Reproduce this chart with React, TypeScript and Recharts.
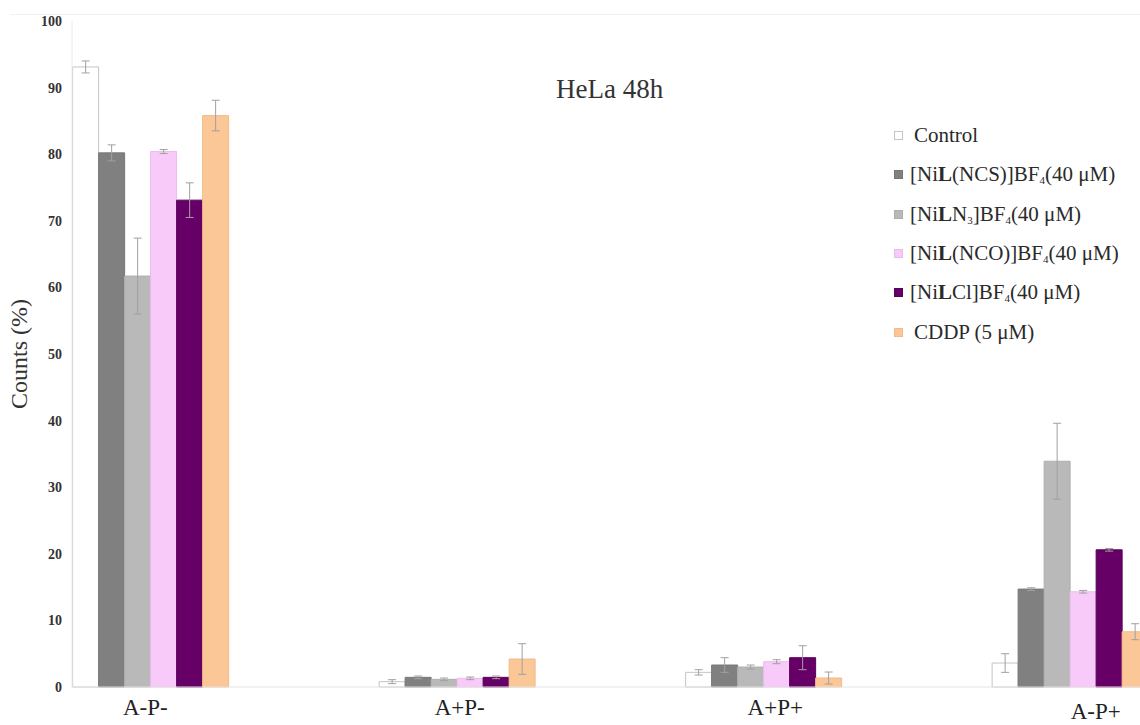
import React from "react";
import { BarChart, Bar, XAxis, YAxis, ErrorBar } from "recharts";

const categories = ["A-P-", "A+P-", "A+P+", "A-P+"];
const seriesNames = [
  "Control",
  "[NiL(NCS)]BF4(40 μM)",
  "[NiLN3]BF4(40 μM)",
  "[NiL(NCO)]BF4(40 μM)",
  "[NiLCl]BF4(40 μM)",
  "CDDP (5 μM)",
];
const control = [93.1, 0.8, 2.2, 3.6];
const controlErr = [0.9, 0.3, 0.4, 1.4];
const ncs = [80.2, 1.45, 3.3, 14.7];
const ncsErr = [1.2, 0.2, 1.1, 0.2];
const n3 = [61.7, 1.15, 3.0, 33.9];
const n3Err = [5.7, 0.2, 0.3, 5.7];
const nco = [80.4, 1.3, 3.8, 14.3];
const ncoErr = [0.3, 0.2, 0.3, 0.2];
const cl = [73.1, 1.45, 4.4, 20.6];
const clErr = [2.6, 0.2, 1.8, 0.2];
const cddp = [85.8, 4.2, 1.35, 8.3];
const cddpErr = [2.3, 2.3, 0.9, 1.2];
const yTicks = [0, 10, 20, 30, 40, 50, 60, 70, 80, 90, 100];

const values = [control, ncs, n3, nco, cl, cddp];
const errors = [controlErr, ncsErr, n3Err, ncoErr, clErr, cddpErr];
const fills = ["#ffffff", "#808080", "#b9b9b9", "#f7caf9", "#660066", "#fcc796"];
const strokes = ["#c4c4c4", "#777777", "#afafaf", "#e9bbee", "#5a005a", "#f0bb8a"];

const data = categories.map((cat, i) => {
  const row: Record<string, any> = { cat };
  values.forEach((arr, s) => {
    row["s" + s] = arr[i];
    row["e" + s] = errors[s][i];
  });
  return row;
});

const FONT = "Liberation Serif, Tinos, DejaVu Serif, serif";

// split a compound name into plain / bold ligand / subscript pieces
function formatName(name: string) {
  const parts = name.split(/(L(?=[(NC])|(?<=[A-Z])\d(?=[\](]))/).filter((p) => p !== undefined && p !== "");
  return parts.map((p, i) => {
    if (p === "L") return <b key={i}>L</b>;
    if (/^\d$/.test(p)) return <sub key={i} style={{ fontSize: 11, verticalAlign: -3 }}>{p}</sub>;
    return <span key={i}>{p}</span>;
  });
}

const tickShift = [-4, 4, 13, 27];
const tickDrop = [20, 20, 20, 24];

function XTick(props: any) {
  const { x, y, payload, index } = props;
  return (
    <text x={x + tickShift[index]} y={y + tickDrop[index]} textAnchor="middle" fontFamily={FONT} fontSize={23} fill="#222">
      {payload.value}
    </text>
  );
}

function LegendBox() {
  return (
    <div style={{ position: "absolute", left: 894, top: 116, fontFamily: FONT, fontSize: 21, color: "#2a2a2a" }}>
      {seriesNames.map((n, i) => (
        <div key={n} style={{ display: "flex", alignItems: "center", height: 39.3, whiteSpace: "nowrap" }}>
          <span
            style={{
              display: "inline-block",
              width: 7,
              height: 7,
              background: fills[i],
              border: "1px solid " + strokes[i],
              marginRight: i === 0 || i === 5 ? 11 : 7,
            }}
          />
          <span>{formatName(n)}</span>
        </div>
      ))}
    </div>
  );
}

export default function App() {
  return (
    <div style={{ position: "absolute", left: 0, top: 0, width: 1140, height: 725, fontFamily: FONT, background: "#fff" }}>
      <div style={{ position: "absolute", left: 10, right: 0, top: 14, borderTop: "1px solid #f2f2f2" }} />
      <BarChart width={1140} height={725} data={data} margin={{ top: 21, right: 0, bottom: 0, left: 0 }} barCategoryGap="25%" barGap={0}>
        <XAxis
          dataKey="cat"
          height={38}
          padding={{ left: -76, right: -82 }}
          tickLine={false}
          axisLine={{ stroke: "#e4e4e4" }}
          interval={0}
          tick={<XTick />}
        />
        <YAxis
          domain={[0, 100]}
          ticks={yTicks}
          width={72}
          tickLine={false}
          tickSize={0}
          tickMargin={10}
          axisLine={{ stroke: "#e8e8e8" }}
          tick={{ fontFamily: FONT, fontWeight: "bold", fontSize: 14, fill: "#333" }}
          label={{ value: "Counts (%)", angle: -90, position: "center", dx: -18, style: { fontFamily: FONT, fontSize: 24, fill: "#333" } }}
        />
        {seriesNames.map((n, s) => (
          <Bar key={n} dataKey={"s" + s} name={n} fill={fills[s]} stroke={strokes[s]} strokeWidth={1} isAnimationActive={false}>
            <ErrorBar dataKey={"e" + s} width={4} stroke="#a0a0a0" strokeWidth={1} />
          </Bar>
        ))}
      </BarChart>
      <div style={{ position: "absolute", left: 556, top: 74, fontSize: 27, color: "#333", fontFamily: FONT }}>HeLa 48h</div>
      <LegendBox />
    </div>
  );
}
